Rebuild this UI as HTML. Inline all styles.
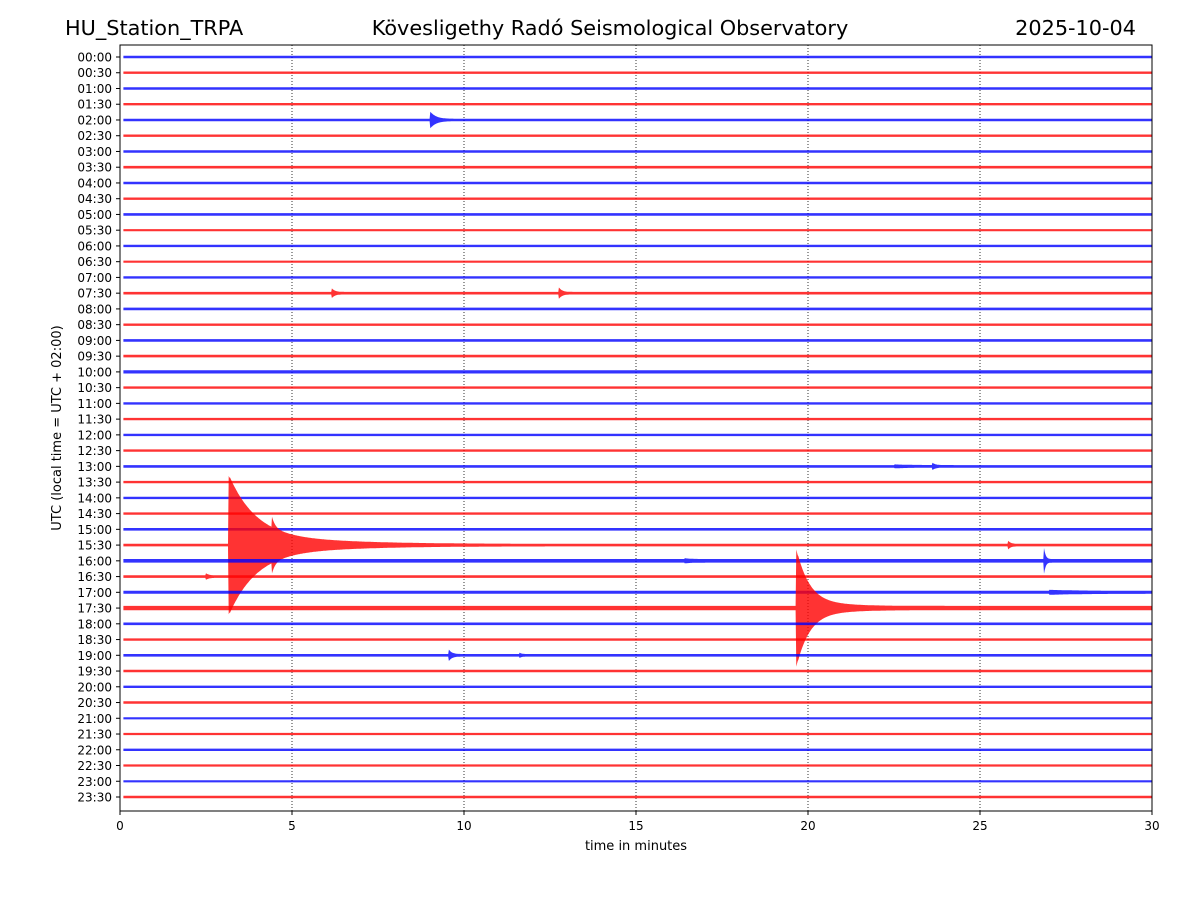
<!DOCTYPE html>
<html><head><meta charset="utf-8"><style>
body{margin:0;background:#fff;}
svg{display:block;font-family:"DejaVu Sans","Liberation Sans",sans-serif;}
</style></head><body>
<svg id="chart" width="1200" height="900">
<rect width="1200" height="900" fill="#fff"/>
<text x="65" y="35" font-size="20.8">HU_Station_TRPA</text>
<text x="610" y="35" font-size="20.8" text-anchor="middle">Kövesligethy Radó Seismological Observatory</text>
<text x="1136" y="35" font-size="20.8" text-anchor="end">2025-10-04</text>
<g id="grid"></g>
<g id="traces"></g>
<rect x="120" y="45" width="1032" height="766" fill="none" stroke="#000" stroke-width="1"/>
<g id="axes" font-size="12"></g>
<text x="636" y="850" font-size="13" text-anchor="middle">time in minutes</text>
<text transform="translate(61,428) rotate(-90)" font-size="13" text-anchor="middle">UTC (local time = UTC + 02:00)</text>
</svg>
<script>
const rowLabels=["00:00","00:30","01:00","01:30","02:00","02:30","03:00","03:30","04:00","04:30","05:00","05:30","06:00","06:30","07:00","07:30","08:00","08:30","09:00","09:30","10:00","10:30","11:00","11:30","12:00","12:30","13:00","13:30","14:00","14:30","15:00","15:30","16:00","16:30","17:00","17:30","18:00","18:30","19:00","19:30","20:00","20:30","21:00","21:30","22:00","22:30","23:00","23:30"];
const rowNoise=[1.3,1.2,1.2,1.2,1.3,1.2,1.2,1.3,1.3,1.2,1.3,1.1,1.2,1.1,1.2,1.3,1.3,1.2,1.3,1.3,1.6,1.2,1.2,1.2,1.2,1.2,1.3,1.2,1.2,1.2,1.3,1.3,1.8,1.3,1.5,2.2,1.3,1.2,1.3,1.2,1.2,1.2,1.1,1.1,1.2,1.1,1.1,1.2];
const xTicks=[0,5,10,15,20,25,30];
const eventRow=[4,15,15,26,26,31,31,31,31,32,32,33,35,35,38,38,34];
const eventStart=[9.0,6.15,12.75,22.5,23.6,3.15,3.2,25.8,4.4,26.85,16.4,2.5,19.65,19.7,9.55,11.6,27];
const eventPeak=[9,5,6,1.5,4,70,14,5,25,15,2,3,60,12,6,3,2];
const eventDecay=[0.2,0.12,0.12,0.8,0.12,0.85,2.6,0.1,0.15,0.06,0.3,0.12,0.4,1.1,0.12,0.08,1.5];
const X0=120,X1=1152,Y0=57,DY=(797-57)/47;
const xs=m=>X0+(X1-X0)*m/30;
const ys=i=>Y0+i*DY;
const NS="http://www.w3.org/2000/svg";
const grid=document.getElementById('grid'),tr=document.getElementById('traces'),ax=document.getElementById('axes');
xTicks.forEach(t=>{
 if(t>0&&t<30){const l=document.createElementNS(NS,'line');
 l.setAttribute('x1',xs(t));l.setAttribute('x2',xs(t));l.setAttribute('y1',45);l.setAttribute('y2',811);
 l.setAttribute('stroke','#000');l.setAttribute('stroke-width','0.8');l.setAttribute('stroke-dasharray','1,2');
 
 grid.appendChild(l);}
 const k=document.createElementNS(NS,'line');
 k.setAttribute('x1',xs(t));k.setAttribute('x2',xs(t));k.setAttribute('y1',811);k.setAttribute('y2',815);k.setAttribute('stroke','#000');
 
 ax.appendChild(k);
 const tx=document.createElementNS(NS,'text');
 tx.setAttribute('x',xs(t));tx.setAttribute('y',830);tx.setAttribute('text-anchor','middle');tx.textContent=t;
 
 ax.appendChild(tx);
});
rowLabels.forEach((lab,i)=>{
 const y=ys(i);
 const k=document.createElementNS(NS,'line');
 k.setAttribute('x1',116);k.setAttribute('x2',120);k.setAttribute('y1',y);k.setAttribute('y2',y);k.setAttribute('stroke','#000');
 
 ax.appendChild(k);
 const tx=document.createElementNS(NS,'text');
 tx.setAttribute('x',112);tx.setAttribute('y',y+4.5);tx.setAttribute('text-anchor','end');tx.textContent=lab;
 
 ax.appendChild(tx);
 const col=i%2===0?'#0000ff':'#ff0000';
 const top=[],bot=[];
 for(let m=0.1;m<=30.0001;m+=0.02){
  let a=rowNoise[i];
  eventRow.forEach((r,e)=>{
   if(r!==i)return;
   const d=m-eventStart[e];
   if(d>=0){const v=eventPeak[e]*Math.exp(-d/eventDecay[e]);a=Math.sqrt(a*a+v*v);}
  });
  top.push(xs(m).toFixed(1)+','+(y-a).toFixed(1));
  bot.push(xs(m).toFixed(1)+','+(y+a).toFixed(1));
 }
 const p=document.createElementNS(NS,'polygon');
 p.setAttribute('points',top.concat(bot.reverse()).join(' '));
 p.setAttribute('fill',col);p.setAttribute('fill-opacity','0.8');
 
 
 tr.appendChild(p);
});
</script>
</body></html>
